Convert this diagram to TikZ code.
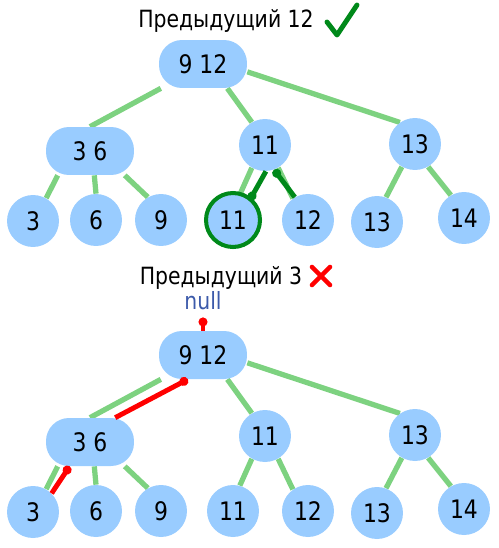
\documentclass[tikz,border=0pt]{standalone}
\usepackage{fontspec}
\setmainfont{DejaVu Sans}[FakeStretch=0.86]
\usetikzlibrary{arrows.meta, backgrounds}
\definecolor{keyblue}{HTML}{99CCFF}
\definecolor{edgegreen}{HTML}{7DD280}
\definecolor{okgreen}{HTML}{00891A}
\definecolor{nullblue}{HTML}{3C5AAA}

\begin{document}
\begin{tikzpicture}[x=0.02cm, y=-0.02cm, font=\fontsize{14.5}{16}\selectfont]
    \tikzstyle{key}=[fill=keyblue, inner sep=0pt]
    \tikzstyle{pill}=[key, rectangle, rounded corners=0.46cm, minimum width=1.76cm, minimum height=0.96cm]
    \tikzstyle{leaf}=[key, circle, minimum size=1.04cm]
    \tikzstyle{edge}=[draw=edgegreen, line width=3pt]
    \tikzstyle{walk}=[line width=2.8pt, -{Circle[length=5pt,width=5pt]}]
    \tikzstyle{title}=[font=\fontsize{13.5}{15}\selectfont, inner sep=1pt]
    \tikzstyle{ring}=[draw=okgreen, line width=2.3pt]

    \useasboundingbox (0,0) rectangle (499,548);

    % two copies of the same tree
    \foreach \t/\dy in {t/0, u/291}{
        \node[pill] (\t-r) at (203,64+\dy) {9 12};
        \node[pill] (\t-a) at (90,151+\dy) {3 6};
        \node[leaf] (\t-b) at (265,145+\dy) {11};
        \node[leaf] (\t-c) at (415,144+\dy) {13};
        \node[leaf] (\t-a1) at (33,221+\dy) {3};
        \node[leaf] (\t-a2) at (96,220+\dy) {6};
        \node[leaf] (\t-a3) at (161,220+\dy) {9};
        \node[leaf] (\t-b1) at (233,220+\dy) {11};
        \node[leaf] (\t-b2) at (308,220+\dy) {12};
        \node[leaf] (\t-c1) at (377,222+\dy) {13};
        \node[leaf] (\t-c2) at (464,218+\dy) {14};
        \begin{scope}[on background layer]
            \foreach \p/\q in {r.-150/a.north, r.-45/b.120, r.-10/c.125,
                a.-143/a1.60, a.-80/a2.north, a.-35/a3.120,
                b.-120/b1.75, b.-60/b2.125, c.-120/c1.70, c.-60/c2.120}
                \draw[edge] (\t-\p) -- (\t-\q);
        \end{scope}
    }

    % found
    \node[title] (found) at (226,21) {Предыдущий 12};
    \draw[okgreen, line width=2.8pt, line cap=round, line join=round] (327,22) -- (337,35) -- (357,5);
    \draw[ring] (t-b1) circle (0.54cm);
    \draw[walk, okgreen] (t-b.-88) -- (t-b1.50);
    \draw[walk, okgreen] (t-b2.120) -- (t-b.-70);

    % not found
    \node[title] (lost) at (221,278) {Предыдущий 3};
    \draw[red, line width=2.6pt, line cap=round] (312,267) -- (330,285) (330,267) -- (312,285);
    \node[title, text=nullblue] (null) at (203,301) {null};
    \draw[walk, red, shorten >=3pt] (u-r.north) -- (null.south);
    \draw[walk, red] (u-a.44) -- (u-r.-122);
    \draw[walk, red] (u-a1.45) -- (u-a.-130);
\end{tikzpicture}
\end{document}
